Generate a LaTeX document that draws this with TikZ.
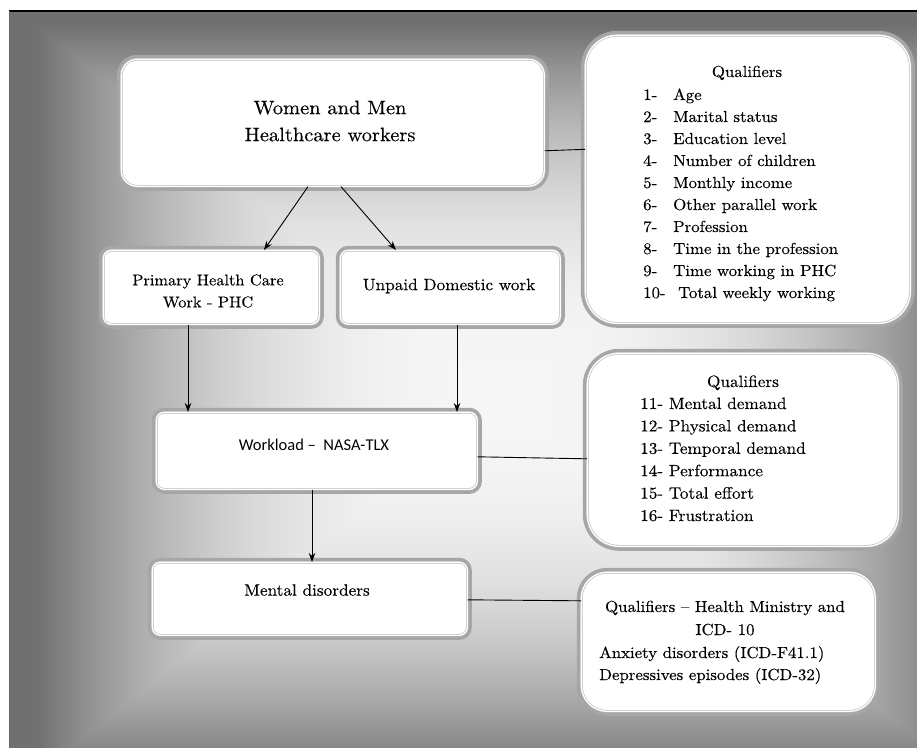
\documentclass[tikz,border=0pt]{standalone}
\usepackage{fontspec}
\setmainfont{lmroman10-regular.otf}[FakeStretch=1.05, FakeBold=0.25]
\newfontfamily\calib{Carlito}
\usetikzlibrary{arrows.meta}
\pgfdeclarefunctionalshading{bgfun}{\pgfpoint{-50bp}{-50bp}}{\pgfpoint{50bp}{50bp}}{}{
  -1.45 sub abs
  exch 2.05 sub abs
  2 copy lt {exch} if pop
  25 div
  2.4 exp
  0.5 mul 0.965 exch sub
  dup 0.44 lt {pop 0.44} if
  dup dup
}
\tikzset{
  box/.style={draw=gray!55, line width=0.6pt, double=white, double distance=1.3pt, fill=white,
    rounded corners=#1, anchor=north west, inner sep=0pt,
    preaction={draw=gray!70, line width=9pt}},
  conn/.style={draw=black, line width=0.9pt},
  arr/.style={conn, -{Stealth[length=9pt,width=6.5pt]}},
  big/.style={font=\fontsize{19.5}{27}\selectfont, align=center},
  mid/.style={font=\fontsize{15.6}{22}\selectfont, align=center},
  itm/.style={font=\fontsize{16}{22}\selectfont, anchor=base west, inner sep=0pt},
  itmb/.style={font=\fontsize{16.4}{22}\selectfont, anchor=base west, inner sep=0pt},
}
\begin{document}
\begin{tikzpicture}[x=1pt,y=-1pt]
\useasboundingbox (0,0) rectangle (917,747);
\fill[white] (0,0) rectangle (917,747);
% rectangular gradient background
\shade[shading=bgfun] (9,11) rectangle (917,747);
\draw[line width=1.6pt] (9,11) -- (917,11);
\draw[black!60, line width=0.6pt] (9,11) -- (9,747);

% boxes
\node[box=16pt, minimum width=423pt, minimum height=127pt] (W) at (121,59) {};
\node[box=8pt, minimum width=216pt, minimum height=74pt] (P) at (103,250) {};
\node[box=8pt, minimum width=220pt, minimum height=74pt] (U) at (340,250) {};
\node[box=32pt, minimum width=325pt, minimum height=288pt] (Q1) at (585,35) {};
\node[box=8pt, minimum width=321pt, minimum height=77pt] (L) at (156,412) {};
\node[box=32pt, minimum width=311pt, minimum height=193pt] (Q2) at (587,353) {};
\node[box=8pt, minimum width=315pt, minimum height=73pt] (M) at (152,562) {};
\node[box=26pt, minimum width=294pt, minimum height=139pt] (Q3) at (581,572) {};

% texts
\node[big] (tW) at (330,121) {Women and Men\\Healthcare workers};
\node[mid] (tP) at (208,291) {Primary Health Care\\Work - PHC};
\node[mid, font=\fontsize{16.4}{22}\selectfont] (tU) at (449,286) {Unpaid Domestic work};
\node[font=\calib\fontsize{16.5}{18}\selectfont, anchor=base] (tL) at (314,450) {Workload –\ \ NASA-TLX};
\node[mid, font=\fontsize{16.4}{22}\selectfont] (tM) at (307,590) {Mental disorders};

\node[itm, anchor=base] (q1h) at (747,77) {Qualifiers};
\foreach \n/\t [count=\i] in {1-/Age,2-/Marital status,3-/Education level,4-/Number of children,5-/Monthly income,6-/Other parallel work,7-/Profession,8-/Time in the profession,9-/Time working in PHC}{
  \node[itm] (q1n\i) at (643,{100+22*(\i-1)}) {\n};
  \node[itm] (q1t\i) at (673,{100+22*(\i-1)}) {\t};
}
\begin{scope}
  \clip (600,270) rectangle (900,301);
  \node[itm] (q1n10) at (643,298) {10-};
  \node[itm] (q1t10) at (678,298) {Total weekly working};
\end{scope}

\node[itmb, anchor=base] (q2h) at (743,387) {Qualifiers};
\foreach \t [count=\i] in {Mental demand,Physical demand,Temporal demand,Performance,Total effort,Frustration}{
  \node[itmb] (q2t\i) at (640,{409+22.4*(\i-1)}) {\the\numexpr\i+10\relax- \t};
}

\node[itm, anchor=base] (q3a) at (725,612) {Qualifiers – Health Ministry and};
\node[itm, anchor=base] (q3b) at (725,635) {ICD- 10};
\node[itm] (q3c) at (599,658) {Anxiety disorders (ICD-F41.1)};
\node[itm] (q3d) at (599,680) {Depressives episodes (ICD-32)};

% connectors
\draw[arr] ([xshift=187pt]W.south west) -- ([xshift=161pt]P.north west);
\draw[arr] ([xshift=220pt]W.south west) -- ([xshift=56pt]U.north west);
\draw[arr] ([xshift=85pt]P.south west) -- ([xshift=32pt]L.north west);
\draw[arr] ([xshift=117pt]U.south west) -- ([xshift=301pt]L.north west);
\draw[arr] ([xshift=156pt]L.south west) -- ([xshift=160pt]M.north west);
\draw[conn] ([yshift=-28pt]W.east) -- ([yshift=30pt]Q1.west);
\draw[conn] ([yshift=-6pt]L.east) -- ([yshift=-9pt]Q2.west);
\draw[conn] ([yshift=-1pt]M.east) -- ([yshift=41pt]Q3.west);
\end{tikzpicture}
\end{document}
